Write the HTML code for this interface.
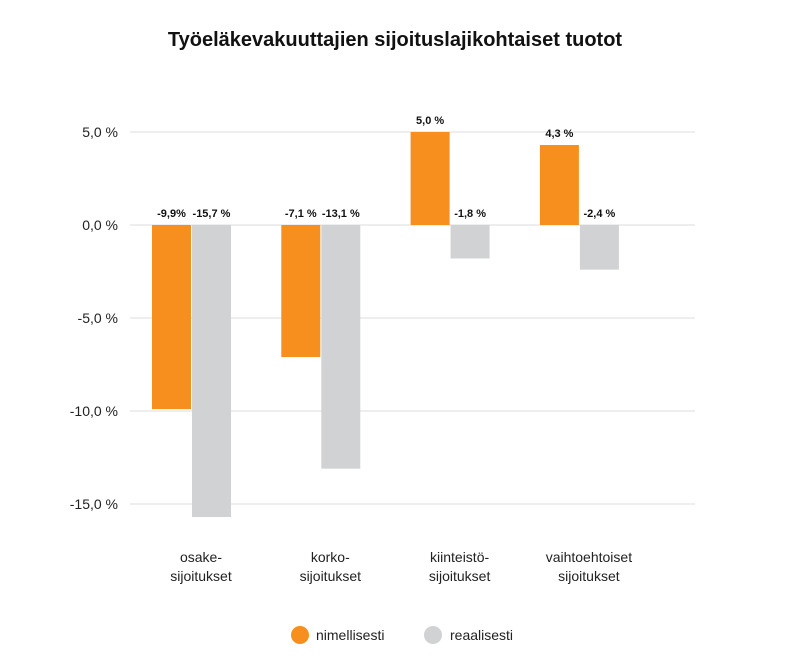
<!DOCTYPE html>
<html><head><meta charset="utf-8">
<style>
body{margin:0;background:#fff;font-family:"Liberation Sans",sans-serif;}
</style></head>
<body>
<svg width="790" height="664" xmlns="http://www.w3.org/2000/svg">
<text x="395" y="46" text-anchor="middle" font-size="20" font-weight="bold" fill="#111">Työeläkevakuuttajien sijoituslajikohtaiset tuotot</text>
<g id="grid"></g><g id="bars"></g><g id="labels"></g>
<g>
<circle cx="300" cy="635" r="9" fill="#f68f1e"/>
<text x="316" y="640" font-size="14" fill="#222">nimellisesti</text>
<circle cx="433" cy="635" r="9" fill="#d1d2d4"/>
<text x="450" y="640" font-size="14" fill="#222">reaalisesti</text>
</g>
</svg>
<script>
const categories=[["osake-","sijoitukset"],["korko-","sijoitukset"],["kiinteistö-","sijoitukset"],["vaihtoehtoiset","sijoitukset"]];
const nominal=[-9.9,-7.1,5.0,4.3];
const real=[-15.7,-13.1,-1.8,-2.4];
const nominalLabels=["-9,9%","-7,1 %","5,0 %","4,3 %"];
const realLabels=["-15,7 %","-13,1 %","-1,8 %","-2,4 %"];
const ticks=[5,0,-5,-10,-15];
const tickLabels=["5,0 %","0,0 %","-5,0 %","-10,0 %","-15,0 %"];
const NS="http://www.w3.org/2000/svg";
const y=v=>225-v*18.6;
const xc=i=>191+129.3*i;
const bw=39;
function mk(tag,attrs,parent,text){const e=document.createElementNS(NS,tag);for(const k in attrs)e.setAttribute(k,attrs[k]);if(text!==undefined)e.textContent=text;document.getElementById(parent).appendChild(e);return e;}
ticks.forEach((t,i)=>{
 const l=mk("line",{x1:130,x2:695,y1:y(t),y2:y(t),stroke:"#dcdcdc","stroke-width":1},"grid");
 
 
 const tx=mk("text",{x:118,y:y(t)+5,"text-anchor":"end","font-size":14,fill:"#222"},"grid",tickLabels[i]);
 
 
});
categories.forEach((c,i)=>{
 const c0=xc(i);
 const vals=[nominal[i],real[i]],cols=["#f68f1e","#d1d2d4"],labs=[nominalLabels[i],realLabels[i]];
 vals.forEach((v,j)=>{
  const x=c0-bw+j*bw+ (j?1:0);
  const r=mk("rect",{x:x,y:Math.min(y(v),y(0)),width:bw,height:Math.abs(y(v)-y(0)),fill:cols[j]},"bars");
  
  
  const ly=v>=0?y(v)-8:y(0)-8;
  const t=mk("text",{x:x+bw/2,y:ly,"text-anchor":"middle","font-size":11,"font-weight":"bold",fill:"#111"},"labels",labs[j]);
  
  
 });
 c.forEach((s,k)=>{
  const t=mk("text",{x:c0+10,y:562+k*19,"text-anchor":"middle","font-size":14,fill:"#222"},"labels",s);
  
  
 });
});
</script>
</body></html>
